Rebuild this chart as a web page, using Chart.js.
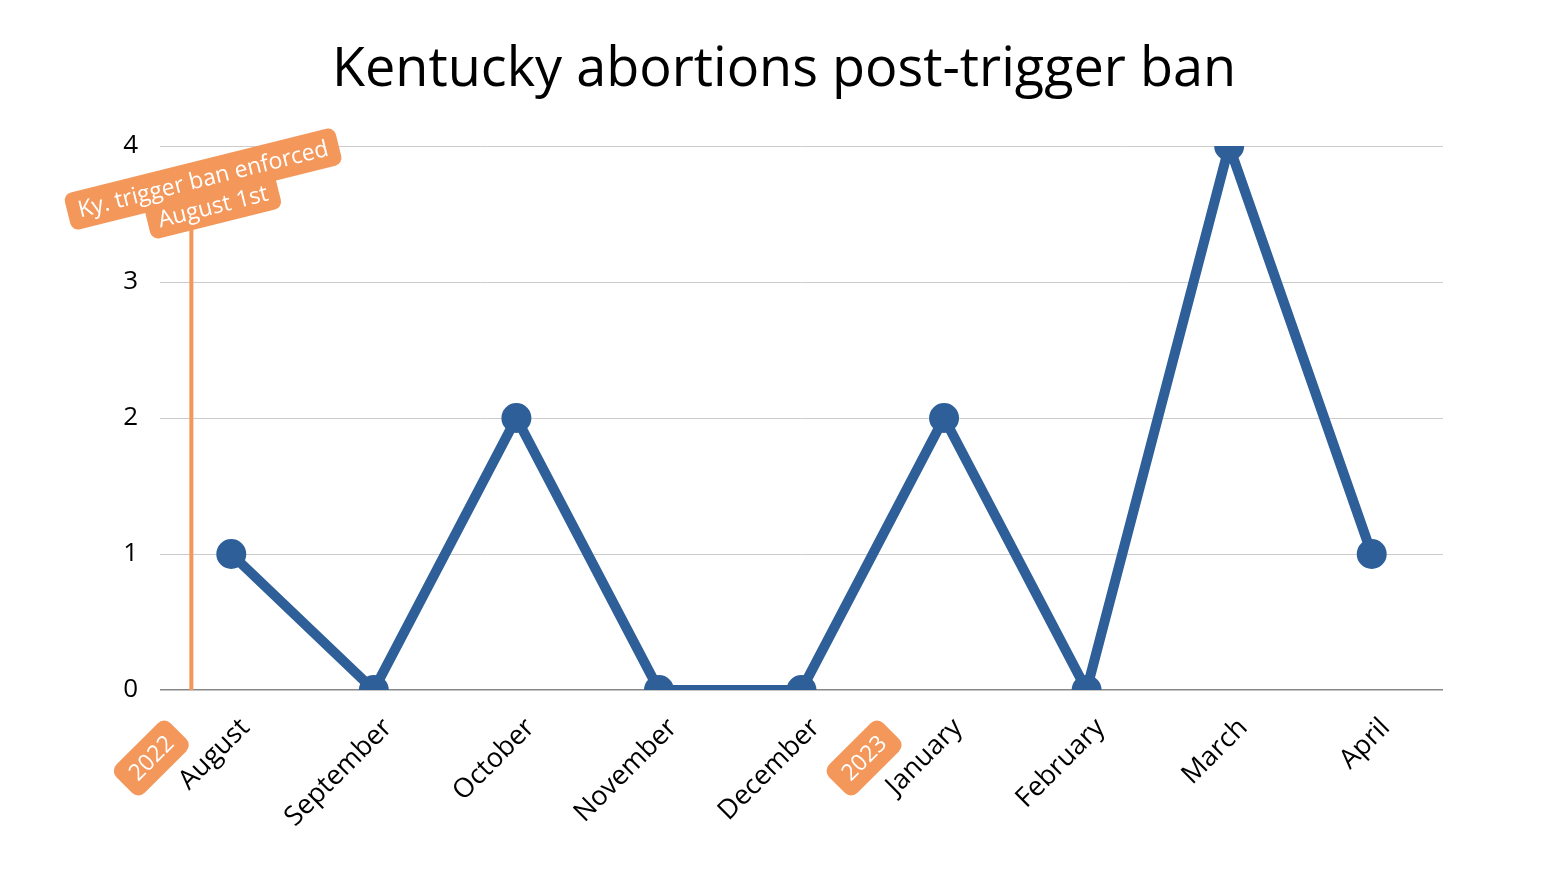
<!DOCTYPE html>
<html>
<head>
<meta charset="utf-8">
<style>
  html, body { margin: 0; padding: 0; background: #fff; }
  #wrap { width: 1568px; height: 882px; }
</style>
<script src="https://cdn.jsdelivr.net/npm/chart.js@4/dist/chart.umd.min.js"></script>
</head>
<body>
<div id="wrap"><canvas id="abortionChart"></canvas></div>
<script>
const months = ['August', 'September', 'October', 'November', 'December', 'January', 'February', 'March', 'April'];
const abortions = [1, 0, 2, 0, 0, 2, 0, 4, 1];
const yTicks = [0, 1, 2, 3, 4];
const yearMarks = [
  { month: 'August', label: '2022' },
  { month: 'January', label: '2023' },
];
const chartTitle = 'Kentucky abortions post-trigger ban';
const banLabel = ['Ky. trigger ban enforced', 'August 1st'];
const banPosition = -0.28; // in category units, just before August

const orange = '#F4975A';
const blue = '#2E5F99';

function roundRect(ctx, x, y, w, h, r) {
  ctx.beginPath();
  ctx.moveTo(x + r, y);
  ctx.arcTo(x + w, y, x + w, y + h, r);
  ctx.arcTo(x + w, y + h, x, y + h, r);
  ctx.arcTo(x, y + h, x, y, r);
  ctx.arcTo(x, y, x + w, y, r);
  ctx.closePath();
}

// title centred on the whole canvas, not on the padded box
const titlePlugin = {
  id: 'pageTitle',
  afterDraw(chart) {
    const { ctx } = chart;
    ctx.save();
    ctx.font = '54px "Open Sans"';
    ctx.fillStyle = '#000';
    ctx.textAlign = 'center';
    ctx.textBaseline = 'alphabetic';
    ctx.fillText(chartTitle, chart.width / 2, 86);
    ctx.restore();
  },
};

const annotations = {
  id: 'annotations',
  afterDatasetsDraw(chart) {
    const { ctx, scales } = chart;
    const x = scales.x;
    const y = scales.y;

    // ban line + tag
    const lx = x.getPixelForValue(banPosition);
    ctx.save();
    ctx.strokeStyle = orange;
    ctx.lineWidth = 4;
    ctx.beginPath();
    ctx.moveTo(lx, y.getPixelForValue(0));
    ctx.lineTo(lx, y.getPixelForValue(3.4));
    ctx.stroke();

    ctx.translate(lx + 12, y.getPixelForValue(3.75));
    ctx.rotate(-14 * Math.PI / 180);
    ctx.font = '23px "Open Sans"';
    const w1 = ctx.measureText(banLabel[0]).width + 22;
    const w2 = ctx.measureText(banLabel[1]).width + 22;
    ctx.fillStyle = orange;
    roundRect(ctx, -w1 / 2, -20, w1, 38, 8);
    ctx.fill();
    roundRect(ctx, -w2 / 2 + 3, 8, w2, 38, 8);
    ctx.fill();
    ctx.fillStyle = '#fff';
    ctx.textAlign = 'center';
    ctx.textBaseline = 'middle';
    ctx.fillText(banLabel[0], 0, 0);
    ctx.fillText(banLabel[1], 3, 29);
    ctx.restore();

    // year badges next to the month labels
    yearMarks.forEach((m) => {
      const px = x.getPixelForValue(months.indexOf(m.month)) - 80;
      const py = y.getPixelForValue(0) + 68;
      ctx.save();
      ctx.translate(px, py);
      ctx.rotate(-45 * Math.PI / 180);
      ctx.font = '23px "Open Sans"';
      const w = ctx.measureText(m.label).width + 24;
      ctx.fillStyle = orange;
      roundRect(ctx, -w / 2, -20, w, 40, 9);
      ctx.fill();
      ctx.fillStyle = '#fff';
      ctx.textAlign = 'center';
      ctx.textBaseline = 'middle';
      ctx.fillText(m.label, 0, 1);
      ctx.restore();
    });
  },
};

const ctx = document.getElementById('abortionChart').getContext('2d');
new Chart(ctx, {
  type: 'line',
  data: {
    labels: months,
    datasets: [
      {
        label: 'Abortions',
        data: abortions,
        borderColor: blue,
        backgroundColor: blue,
        borderWidth: 10,
        pointRadius: 10,
        pointHoverRadius: 10,
        tension: 0,
      },
    ],
  },
  options: {
    responsive: true,
    maintainAspectRatio: false,
    animation: false,
    layout: {
      padding: { left: 0, right: 125, top: 146, bottom: 0 },
    },
    plugins: {
      legend: { display: false },
      tooltip: { enabled: false },
      title: { display: false },
    },
    scales: {
      x: {
        offset: true,
        grid: { display: false },
        border: { display: false },
        ticks: {
          color: '#000',
          font: { family: 'Open Sans', size: 27 },
          maxRotation: 45,
          minRotation: 45,
          padding: 14,
          labelOffset: 14,
        },
        afterFit: (scale) => { scale.height = 192; },
      },
      y: {
        min: 0,
        max: 4,
        afterBuildTicks: (scale) => { scale.ticks = yTicks.map((v) => ({ value: v })); },
        grid: {
          drawTicks: false,
          color: (c) => (c.tick && c.tick.value === 0 ? '#888' : '#ccc'),
          lineWidth: (c) => (c.tick && c.tick.value === 0 ? 1.5 : 1),
        },
        border: { display: false },
        ticks: {
          color: '#000',
          font: { family: 'Open Sans', size: 26 },
          padding: 22,
        },
        afterFit: (scale) => { scale.width = 160; },
      },
    },
  },
  plugins: [annotations, titlePlugin],
});
</script>
</body>
</html>
